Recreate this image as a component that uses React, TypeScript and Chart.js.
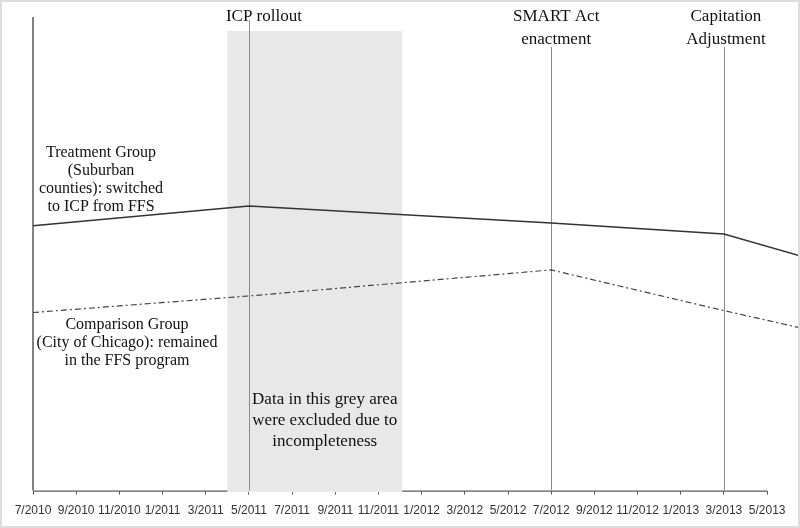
import React, { useEffect, useRef } from "react";
import { Chart, registerables } from "chart.js";

Chart.register(...registerables);

// Months since 7/2010
const months = [0, 10, 24, 32, 35.5];
const treatment = [55.9, 60.1, 56.5, 54.2, 49.6];
const comparison = [37.6, 41.1, 46.6, 38.0, 34.4];

const tickLabels = [
  "7/2010", "9/2010", "11/2010", "1/2011", "3/2011", "5/2011", "7/2011", "9/2011", "11/2011",
  "1/2012", "3/2012", "5/2012", "7/2012", "9/2012", "11/2012", "1/2013", "3/2013", "5/2013",
];

const eventMonths = [10, 24, 32];
const eventLabels = [["ICP rollout"], ["SMART Act", "enactment"], ["Capitation", "Adjustment"]];

const greyStart = 9;
const greyEnd = 17.1;
const greyLabel = ["Data in this grey area", "were excluded due to", "incompleteness"];
const treatmentLabel = ["Treatment Group", "(Suburban", "counties): switched", "to ICP from FFS"];
const comparisonLabel = ["Comparison Group", "(City of Chicago): remained", "in the FFS program"];

const lastTick = (tickLabels.length - 1) * 2;

const decorPlugin = {
  id: "decor",
  beforeDatasetsDraw(chart: any) {
    const ctx = chart.ctx;
    const xs = chart.scales.x;
    const area = chart.chartArea;
    const x0 = xs.getPixelForValue(0);
    ctx.save();
    // y axis
    ctx.strokeStyle = "#595959";
    ctx.lineWidth = 1.5;
    ctx.beginPath();
    ctx.moveTo(x0, area.top);
    ctx.lineTo(x0, area.bottom);
    ctx.stroke();
    // x axis line
    ctx.lineWidth = 1.2;
    ctx.beginPath();
    ctx.moveTo(x0, area.bottom + 0.5);
    ctx.lineTo(xs.getPixelForValue(lastTick), area.bottom + 0.5);
    ctx.stroke();
    // grey area
    const gx1 = xs.getPixelForValue(greyStart);
    const gx2 = xs.getPixelForValue(greyEnd);
    ctx.fillStyle = "#e8e8e8";
    ctx.fillRect(gx1, area.top + 14, gx2 - gx1, area.bottom + 1.5 - (area.top + 14));
    // event lines
    ctx.strokeStyle = "#8c8c8c";
    ctx.lineWidth = 1;
    eventMonths.forEach((m, i) => {
      const px = Math.round(xs.getPixelForValue(m)) + 0.5;
      const top = i === 0 ? area.top + 3 : area.top + 30;
      ctx.beginPath();
      ctx.moveTo(px, top);
      ctx.lineTo(px, area.bottom);
      ctx.stroke();
    });
    ctx.restore();
  },
  afterDraw(chart: any) {
    const ctx = chart.ctx;
    const xs = chart.scales.x;
    const area = chart.chartArea;
    ctx.save();
    ctx.fillStyle = "#111";
    ctx.textAlign = "center";
    ctx.textBaseline = "middle";
    // event labels
    ctx.font = '17px "Liberation Serif"';
    const evOffsets = [15, 5, 2];
    eventMonths.forEach((m, i) => {
      const cx = xs.getPixelForValue(m) + evOffsets[i];
      eventLabels[i].forEach((t, j) => {
        ctx.fillText(t, cx, area.top + 0 + j * 23);
      });
    });
    // grey label
    const gcx = (xs.getPixelForValue(greyStart) + xs.getPixelForValue(greyEnd)) / 2 + 10;
    greyLabel.forEach((t, j) => ctx.fillText(t, gcx, area.top + 383 + j * 21));
    // group labels
    ctx.font = '16px "Liberation Serif"';
    const x0 = xs.getPixelForValue(0);
    treatmentLabel.forEach((t, j) => ctx.fillText(t, x0 + 68, area.top + 136 + j * 18));
    comparisonLabel.forEach((t, j) => ctx.fillText(t, x0 + 94, area.top + 308 + j * 18));
    // frame
    ctx.strokeStyle = "#dddddd";
    ctx.lineWidth = 2;
    ctx.strokeRect(1, 1, chart.width - 2, chart.height - 2);
    ctx.restore();
  },
};

export default function App() {
  const ref = useRef<HTMLCanvasElement>(null);
  useEffect(() => {
    if (!ref.current) return;
    const chart = new Chart(ref.current, {
      type: "line",
      data: {
        datasets: [
          {
            label: "Treatment",
            data: months.map((m, i) => ({ x: m, y: treatment[i] })),
            borderColor: "#333333",
            borderWidth: 1.5,
            pointRadius: 0,
            tension: 0,
          },
          {
            label: "Comparison",
            data: months.map((m, i) => ({ x: m, y: comparison[i] })),
            borderColor: "#444444",
            borderWidth: 1.2,
            borderDash: [6, 3, 2, 3],
            pointRadius: 0,
            tension: 0,
          },
        ],
      },
      options: {
        responsive: false,
        animation: false,
        layout: { padding: { left: 33, top: 17, right: 2, bottom: 2 } },
        plugins: { legend: { display: false }, tooltip: { enabled: false } },
        scales: {
          x: {
            type: "linear",
            min: 0,
            max: 35.43,
            afterBuildTicks: (scale: any) => {
              scale.ticks = tickLabels.map((_, i) => ({ value: i * 2 }));
            },
            grid: { display: true, drawOnChartArea: false, drawTicks: true, tickLength: 4, color: "#595959" },
            border: { display: false },
            ticks: {
              stepSize: 2,
              autoSkip: false,
              maxRotation: 0,
              padding: 8.5,
              color: "#333333",
              font: { family: '"Liberation Sans"', size: 12 },
              callback: (v: any) => tickLabels[Math.round(Number(v) / 2)] ?? "",
            },
          },
          y: { display: false, min: 0, max: 100 },
        },
      },
      plugins: [decorPlugin],
    });
    return () => chart.destroy();
  }, []);
  return (
    <div style={{ position: "fixed", left: 0, top: 0, width: 800, height: 528, background: "#fff" }}>
      <canvas ref={ref} width={800} height={528} style={{ display: "block" }} />
    </div>
  );
}
